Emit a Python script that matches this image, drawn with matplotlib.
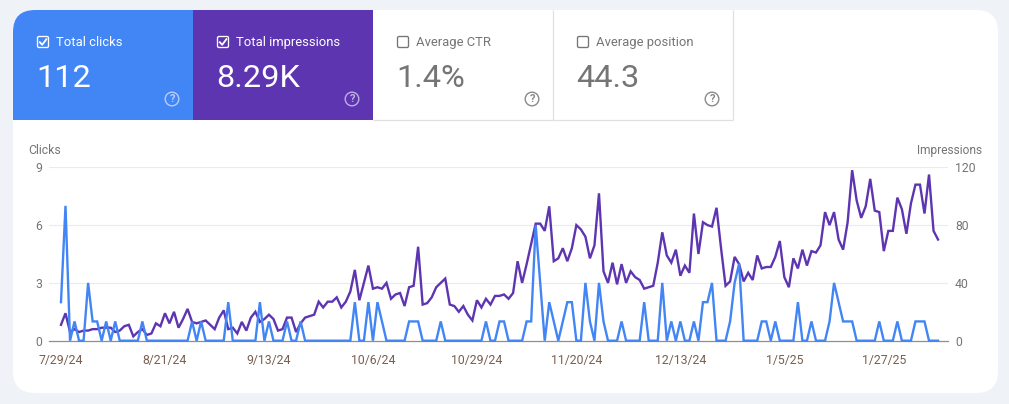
import numpy as np
import pandas as pd
import matplotlib
matplotlib.use('Agg')
import matplotlib.pyplot as plt
from matplotlib.patches import FancyBboxPatch, Rectangle, Circle

plt.rcParams['font.family'] = ['Roboto', 'DejaVu Sans']

start_date = '2024-07-29'
clicks = [2, 7, 0, 1, 0, 0, 3, 1, 1, 0, 1, 0, 1, 0, 0, 0, 0, 0, 1, 0,
          0, 0, 0, 0, 0, 0, 0, 0, 0, 1, 0, 1, 0, 0, 0, 0, 0, 2, 0, 0,
          0, 0, 0, 0, 2, 0, 1, 0, 0, 0, 1, 0, 0, 1, 0, 0, 0, 0, 0, 0,
          0, 0, 0, 0, 0, 2, 0, 0, 2, 0, 2, 1, 0, 0, 0, 0, 0, 1, 1, 1,
          0, 0, 0, 0, 1, 0, 0, 0, 0, 0, 0, 0, 0, 0, 1, 0, 0, 1, 1, 0,
          0, 0, 0, 1, 1, 6, 3, 0, 2, 1, 0, 1, 2, 2, 0, 0, 3, 1, 0, 3,
          1, 0, 0, 0, 1, 0, 0, 0, 0, 2, 0, 0, 0, 3, 0, 1, 0, 1, 0, 0,
          1, 0, 2, 2, 3, 0, 0, 0, 1, 3, 4, 0, 0, 0, 0, 1, 1, 0, 1, 0,
          0, 0, 0, 2, 0, 0, 1, 0, 0, 0, 1, 3, 2, 1, 1, 1, 0, 0, 0, 0,
          0, 1, 0, 0, 0, 1, 0, 0, 0, 1, 1, 1, 0, 0, 0]
impressions = [11, 19, 6, 8, 6, 7, 7, 8, 8, 9, 9, 9, 6, 7, 10, 11, 3, 6, 8, 4,
               5, 12, 10, 19, 12, 20, 9, 15, 22, 13, 12, 13, 14, 11, 8, 16, 21, 8, 9, 5,
               13, 7, 16, 20, 13, 15, 18, 15, 7, 8, 16, 16, 6, 12, 16, 17, 18, 27, 23, 27,
               27, 30, 23, 27, 34, 49, 28, 40, 52, 36, 37, 36, 40, 29, 32, 33, 24, 37, 38, 65,
               25, 26, 30, 37, 40, 43, 25, 24, 20, 24, 18, 14, 28, 23, 29, 25, 31, 31, 32, 29,
               33, 55, 40, 53, 67, 81, 81, 76, 93, 55, 57, 64, 55, 64, 80, 77, 72, 57, 66, 102,
               48, 40, 54, 39, 53, 40, 48, 44, 42, 36, 37, 38, 54, 75, 59, 54, 63, 45, 52, 47,
               88, 60, 82, 80, 79, 92, 64, 38, 41, 58, 53, 41, 47, 42, 59, 50, 51, 51, 58, 69,
               44, 37, 57, 50, 63, 52, 62, 61, 66, 89, 80, 89, 70, 63, 82, 118, 97, 85, 93, 112,
               90, 89, 62, 76, 76, 99, 91, 74, 95, 108, 108, 88, 115, 76, 70]
date_ticks = ['2024-07-29', '2024-08-21', '2024-09-13', '2024-10-06', '2024-10-29',
              '2024-11-20', '2024-12-13', '2025-01-05', '2025-01-27']
date_labels = ['7/29/24', '8/21/24', '9/13/24', '10/6/24', '10/29/24',
               '11/20/24', '12/13/24', '1/5/25', '1/27/25']
clicks_ticks = [0, 3, 6, 9]
impressions_ticks = [0, 40, 80, 120]
tile_names = ['Total clicks', 'Total impressions', 'Average CTR', 'Average position']
tile_values = ['112', '8.29K', '1.4%', '44.3']
tile_checked = [True, True, False, False]

W, H = 1009, 404
BLUE = '#4285f4'
PURPLE = '#5e35b1'
GREY = '#757575'

fig = plt.figure(figsize=(W / 100, H / 100), dpi=100, facecolor='#eff3f8')

# page furniture, in pixels
ui = fig.add_axes([0, 0, 1, 1], zorder=0)
ui.set_xlim(0, W)
ui.set_ylim(H, 0)
ui.axis('off')

card = FancyBboxPatch((13, 10), 985, 383, boxstyle='round,pad=0,rounding_size=22',
                      fc='white', ec='none')
ui.add_patch(card)

tile_w = 180
tile_colors = [BLUE, PURPLE, 'white', 'white']
for i, name in enumerate(tile_names):
    x0 = 13 + i * tile_w
    on = tile_checked[i]
    tile = Rectangle((x0, 10), tile_w, 110, fc=tile_colors[i], ec='none')
    ui.add_patch(tile)
    tile.set_clip_path(card)
    fg = 'white' if on else GREY
    if not on:
        ui.plot([x0, x0 + tile_w], [120, 120], color='#e0e0e0', lw=0.9, solid_capstyle='butt')
        ui.plot([x0 + tile_w - 0.5, x0 + tile_w - 0.5], [10, 120], color='#e0e0e0', lw=0.9, solid_capstyle='butt')

    box = FancyBboxPatch((x0 + 24.5, 36.5), 11, 11, boxstyle='round,pad=0,rounding_size=1.5',
                         fc='none', ec=fg, lw=0.95)
    ui.add_patch(box)
    if on:
        ui.plot([x0 + 26.8, x0 + 29.2, x0 + 33.4], [42.2, 44.8, 39.2], color='white', lw=1.3)

    ui.text(x0 + 43.5, 42.5, name, color=fg, fontsize=9.4, va='center', ha='left')
    ui.text(x0 + 23.5, 78.5, tile_values[i], color=fg, fontsize=23.4, va='center', ha='left')

    # help icon
    ic = 'white' if on else '#8a8a8a'
    ui.add_patch(Circle((x0 + 159, 99), 6.8, fc='none', ec=ic, lw=1.0, alpha=0.6 if on else 1))
    ui.text(x0 + 159, 99.3, '?', color=ic, alpha=0.6 if on else 1, fontsize=8, fontweight='bold',
            ha='center', va='center')

ui.text(28.5, 150.5, 'Clicks', color=GREY, fontsize=8.8, va='center', ha='left')
ui.text(982, 150.5, 'Impressions', color=GREY, fontsize=8.6, va='center', ha='right')

# chart
dates = pd.date_range(start_date, periods=len(clicks), freq='D')
left, right, top, bottom = 49, 948, 167.3, 340.7
ax = fig.add_axes([left / W, 1 - bottom / H, (right - left) / W, (bottom - top) / H], zorder=2)
ax2 = ax.twinx()
ax.set_zorder(3)
ax2.set_zorder(2)
ax.patch.set_visible(False)
ax2.patch.set_visible(False)

ax2.plot(dates, impressions, color=PURPLE, lw=1.7, solid_joinstyle='miter', clip_on=False)
ax.plot(dates, clicks, color=BLUE, lw=1.7, solid_joinstyle='miter', clip_on=False)

xpad = pd.Timedelta(days=2.65)
ax.set_xlim(dates[0] - xpad, dates[-1] + pd.Timedelta(days=2.2))
ax.set_ylim(0, 9)
ax2.set_ylim(0, 120)
ax.set_yticks(clicks_ticks)
ax2.set_yticks(impressions_ticks)
ax.set_xticks(pd.to_datetime(date_ticks))
ax.set_xticklabels(date_labels)
ax2.grid(False)
ax.grid(False)
for y in clicks_ticks[1:]:
    ax2.axhline(y / 9 * 120, color='#ebebeb', lw=0.8, zorder=0)

for s in ax.spines.values():
    s.set_visible(False)
for s in ax2.spines.values():
    s.set_visible(False)
ax2.spines['bottom'].set_visible(True)
ax2.spines['bottom'].set_color('#8f8f8f')
ax2.spines['bottom'].set_linewidth(0.9)

ax.tick_params(axis='y', length=0, labelsize=8.8, labelcolor=GREY, pad=5)
ax2.tick_params(axis='y', length=0, labelsize=8.8, labelcolor=GREY, pad=5)
ax.tick_params(axis='x', length=0, labelsize=8.8, labelcolor='#795f4f', pad=9.5)

fig.savefig('out.png', dpi=100, facecolor=fig.get_facecolor())
